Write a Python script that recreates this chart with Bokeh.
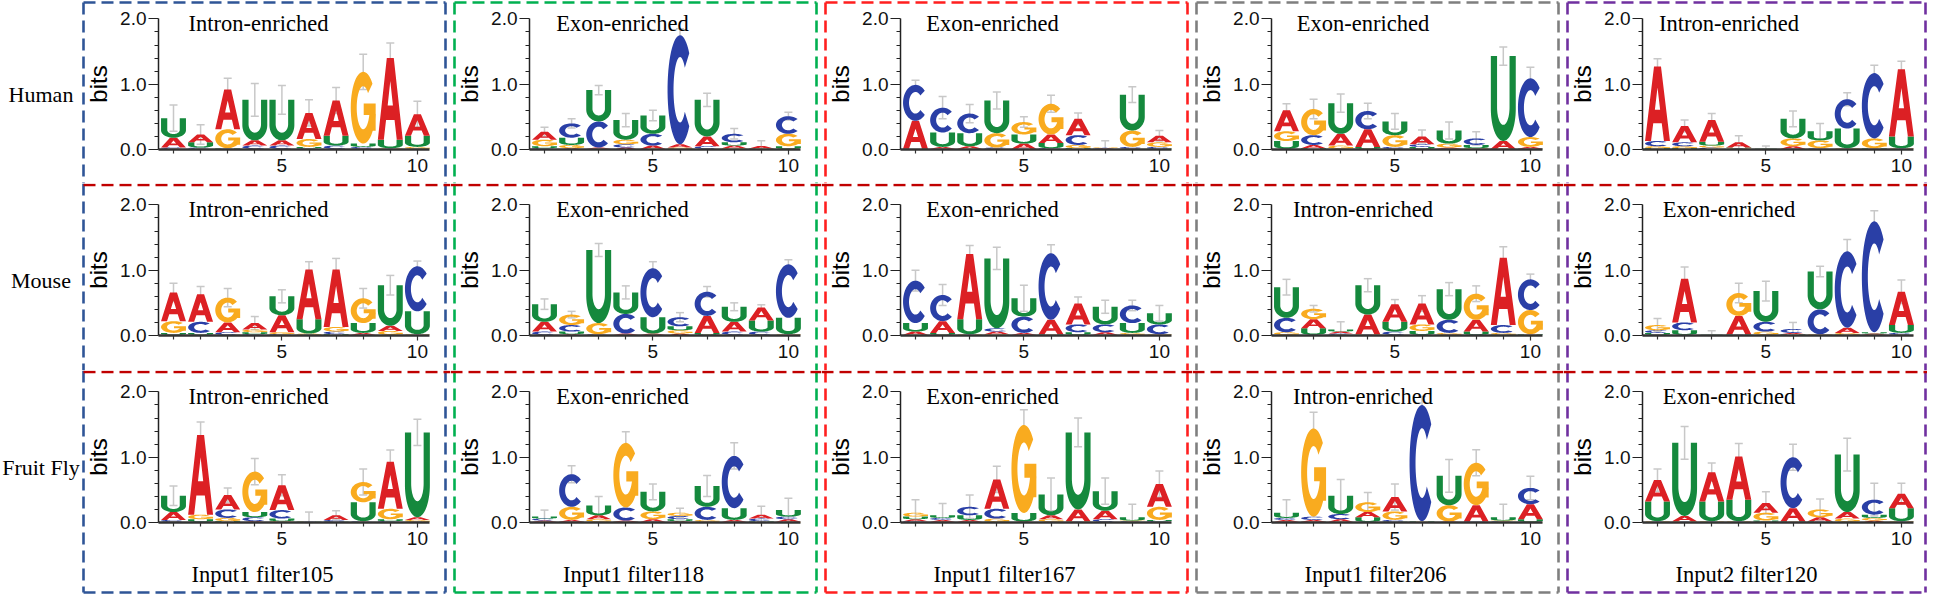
import numpy as np
from bokeh.plotting import figure
from bokeh.layouts import gridplot
from bokeh.models import (Range1d, LinearAxis, FixedTicker, PrintfTickFormatter,
                          ColumnDataSource, Whisker, TeeHead)
from bokeh.core.properties import value
from bokeh.embed import file_html
from bokeh.resources import INLINE

# ---------------------------------------------------------------- data
POSITIONS = [1, 2, 3, 4, 5, 6, 7, 8, 9, 10]
LETTERS = ["A", "C", "G", "U"]
ROW_NAMES = ["Human", "Mouse", "Fruit Fly"]
COL_NAMES = ["Input1 filter105", "Input1 filter118", "Input1 filter167",
             "Input1 filter206", "Input2 filter120"]
TITLES = [
    ["Intron-enriched", "Exon-enriched", "Exon-enriched", "Exon-enriched", "Intron-enriched"],
    ["Intron-enriched", "Exon-enriched", "Exon-enriched", "Intron-enriched", "Exon-enriched"],
    ["Intron-enriched", "Exon-enriched", "Exon-enriched", "Intron-enriched", "Exon-enriched"],
]

# information content (bits) per letter and position
human_f105 = {"A": [.15, .12, .61, .08, .08, .40, .54, .01, 1.25, .33],
              "C": [.02, .02, .01, .05, .05, .02, .05, .03, .01, .01],
              "G": [.01, .01, .29, .01, .01, .12, .01, 1.10, .01, .03],
              "U": [.30, .08, .01, .62, .62, .02, .15, .05, .13, .17]}
human_f105_err = [.20, .15, .17, .25, .22, .20, .20, .27, .23, .20]

mouse_f105 = {"A": [.44, .42, .15, .10, .26, .76, .88, .03, .08, .01],
              "C": [.01, .17, .04, .02, .02, .01, .04, .01, .01, .69],
              "G": [.18, .01, .38, .04, .03, .02, .07, .38, .06, .01],
              "U": [.03, .03, .01, .03, .29, .22, .02, .15, .62, .35]}
mouse_f105_err = [.14, .12, .14, .10, .10, .12, .17, .15, .15, .08]

fly_f105 = {"A": [.12, 1.22, .22, .02, .38, .005, .07, .01, .72, .04],
            "C": [.03, .01, .13, .06, .13, .005, .03, .01, .02, .01],
            "G": [.01, .07, .05, .62, .02, .005, .005, .31, .16, .03],
            "U": [.25, .04, .02, .08, .04, .005, .005, .29, .03, 1.30]}
fly_f105_err = [.15, .20, .11, .20, .16, .14, .07, .20, .18, .20]

human_f118 = {"A": [.12, .02, .02, .03, .05, .05, .15, .04, .04, .01],
              "C": [.02, .22, .40, .05, .18, 1.67, .04, .13, .005, .27],
              "G": [.10, .05, .01, .07, .01, .02, .01, .02, .005, .19],
              "U": [.03, .11, .48, .30, .28, .01, .56, .05, .005, .04]}
human_f118_err = [.07, .07, .07, .10, .08, .10, .10, .08, .08, .06]

mouse_f118 = {"A": [.15, .02, .01, .02, .02, .03, .26, .15, .20, .01],
              "C": [.05, .10, .01, .30, .75, .14, .37, .05, .05, .82],
              "G": [.01, .16, .17, .01, .01, .05, .01, .01, .01, .01],
              "U": [.27, .04, 1.12, .33, .25, .06, .03, .23, .17, .25]}
mouse_f118_err = [.08, .05, .10, .10, .10, .07, .08, .06, .04, .07]

fly_f118 = {"A": [.02, .03, .06, .02, .04, .02, .01, .03, .06, .04],
            "C": [.03, .50, .01, .20, .01, .05, .20, .80, .04, .04],
            "G": [.01, .20, .04, .99, .12, .05, .03, .01, .01, .01],
            "U": [.03, .01, .15, .01, .30, .03, .32, .18, .01, .10]}
fly_f118_err = [.10, .13, .14, .17, .12, .07, .16, .20, .13, .18]

human_f167 = {"A": [.43, .03, .04, .01, .08, .13, .25, .01, .01, .10],
              "C": [.55, .38, .30, .02, .01, .02, .15, .01, .03, .03],
              "G": [.005, .01, .01, .22, .19, .47, .05, .01, .25, .07],
              "U": [.005, .22, .20, .50, .14, .08, .02, .005, .55, .01]}
human_f167_err = [.07, .17, .14, .13, .08, .13, .09, .10, .12, .08]

mouse_f167 = {"A": [.05, .18, 1.00, .04, .03, .22, .32, .04, .01, .01],
              "C": [.65, .40, .01, .05, .25, 1.02, .12, .12, .27, .15],
              "G": [.01, .01, .01, .02, .01, .01, .01, .01, .03, .01],
              "U": [.13, .03, .23, 1.07, .28, .01, .04, .27, .15, .17]}
mouse_f167_err = [.16, .16, .13, .17, .20, .13, .10, .10, .08, .12]

fly_f167 = {"A": [.03, .03, .03, .45, .01, .06, .18, .13, .01, .35],
            "C": [.02, .03, .13, .15, .005, .01, .01, .04, .01, .02],
            "G": [.06, .01, .01, .05, 1.35, .04, .01, .01, .01, .20],
            "U": [.04, .04, .07, .01, .13, .32, 1.18, .30, .05, .02]}
fly_f167_err = [.20, .18, .18, .20, .23, .25, .22, .20, .20, .20]

human_f206 = {"A": [.32, .05, .18, .27, .01, .12, .02, .01, .12, .03],
              "C": [.01, .15, .01, .28, .03, .04, .01, .10, .005, .90],
              "G": [.15, .40, .05, .01, .18, .01, .06, .01, .005, .15],
              "U": [.12, .02, .47, .03, .21, .03, .20, .05, 1.30, .01]}
human_f206_err = [.10, .15, .14, .12, .12, .10, .13, .10, .14, .17]

mouse_f206 = {"A": [.01, .14, .03, .30, .27, .32, .01, .18, 1.03, .01],
              "C": [.22, .01, .02, .01, .05, .01, .20, .01, .12, .47],
              "G": [.04, .16, .01, .01, .01, .10, .03, .40, .03, .37],
              "U": [.47, .10, .03, .45, .15, .06, .47, .05, .01, .01]}
mouse_f206_err = [.12, .05, .12, .10, .07, .12, .10, .12, .17, .08]

fly_f206 = {"A": [.03, .03, .04, .08, .22, .005, .01, .25, .01, .23],
            "C": [.03, .05, .08, .01, .03, 1.78, .005, .01, .01, .25],
            "G": [.01, 1.35, .01, .15, .13, .005, .25, .65, .01, .01],
            "U": [.08, .01, .28, .07, .01, .01, .45, .005, .05, .04]}
fly_f206_err = [.20, .25, .25, .15, .20, .13, .25, .20, .20, .18]

human_in2_f120 = {"A": [1.14, .25, .33, .08, .003, .04, .01, .01, .01, 1.03],
                  "C": [.08, .06, .03, .01, .003, .01, .01, .45, 1.00, .01],
                  "G": [.03, .03, .03, .01, .003, .12, .12, .01, .15, .01],
                  "U": [.02, .02, .06, .01, .003, .30, .14, .30, .01, .18]}
human_in2_f120_err = [.12, .09, .10, .10, .04, .12, .12, .10, .12, .12]

mouse_in2_f120 = {"A": [.01, .67, .003, .28, .01, .02, .01, .08, .02, .51],
                  "C": [.04, .12, .003, .01, .15, .06, .38, 1.17, 1.70, .03],
                  "G": [.08, .01, .003, .35, .05, .01, .01, .03, .01, .01],
                  "U": [.03, .07, .003, .01, .47, .01, .58, .01, .02, .12]}
mouse_in2_f120_err = [.10, .18, .06, .15, .15, .10, .08, .18, .16, .18]

fly_in2_f120 = {"A": [.33, .08, .45, .66, .15, .20, .06, .10, .03, .22],
                "C": [.01, .01, .01, .01, .01, .78, .01, .01, .23, .01],
                "G": [.01, .01, .01, .01, .12, .01, .12, .05, .04, .01],
                "U": [.30, 1.12, .30, .33, .02, .01, .01, .88, .05, .20]}
fly_in2_f120_err = [.17, .25, .14, .20, .17, .20, .16, .25, .25, .16]

PANELS = [[human_f105, human_f118, human_f167, human_f206, human_in2_f120],
          [mouse_f105, mouse_f118, mouse_f167, mouse_f206, mouse_in2_f120],
          [fly_f105, fly_f118, fly_f167, fly_f206, fly_in2_f120]]
ERRORS = [[human_f105_err, human_f118_err, human_f167_err, human_f206_err, human_in2_f120_err],
          [mouse_f105_err, mouse_f118_err, mouse_f167_err, mouse_f206_err, mouse_in2_f120_err],
          [fly_f105_err, fly_f118_err, fly_f167_err, fly_f206_err, fly_in2_f120_err]]

# ---------------------------------------------------------------- styles / layout
LETTER_COLORS = {"A": "#dc2024", "C": "#2a3fa6", "G": "#f9ab1f", "U": "#15893d"}
COL_COLORS = ["#2f5597", "#00b050", "#ff1f1f", "#7f7f7f", "#7030a0"]
SEP_COLOR = "#c00000"
EB_COLOR = "#c8c8c8"
SERIF = "Liberation Serif"
SANS = "Liberation Sans"

COL_W = [450, 371, 371, 371, 364]
ROW_H = [183, 187, 226]
ZERO_PX = [149, 152, 152]
LABEL_W = 79
UNIT = 27.1
BIT = 65.3
AXIS_PX = 79
POS1_PX = 94
BORDER_L, BORDER_R = 4, 366
TITLE_OFF = [100, 93, 92, 91.5, 86.5]
ROW_LABEL_PX = 40.5
LETTER_W = 0.92


# ---------------------------------------------------------------- letter outlines (unit box)
def arc(cx, cy, rx, ry, a0, a1, n=48):
    t = np.radians(np.linspace(a0, a1, n))
    return list(cx + rx * np.cos(t)), list(cy + ry * np.sin(t))


def shape_A():
    ox = [0, 0.36, 0.64, 1, 0.76, 0.67, 0.33, 0.24]
    oy = [0, 1, 1, 0, 0, 0.24, 0.24, 0]
    hx = [0.395, 0.605, 0.5]
    hy = [0.42, 0.42, 0.72]
    return [[(ox, oy), (hx, hy)]]


def shape_U():
    ax, ay = arc(0.5, 0.38, 0.5, 0.38, 180, 360)
    bx, by = arc(0.5, 0.40, 0.25, 0.21, 360, 180)
    xs = [0] + ax + [1, 0.75] + bx + [0.25]
    ys = [1] + ay + [1, 1] + by + [1]
    return [[(xs, ys)]]


def shape_C():
    ox, oy = arc(0.5, 0.5, 0.5, 0.5, 42, 318)
    ix, iy = arc(0.5, 0.5, 0.26, 0.30, 318, 42)
    return [[(ox + ix, oy + iy)]]


def shape_G():
    ox, oy = arc(0.5, 0.5, 0.5, 0.5, 42, 350)
    ix, iy = arc(0.5, 0.5, 0.26, 0.30, 350, 42)
    ring = [(ox + ix, oy + iy)]
    bar = [([0.52, 1.0, 1.0, 0.78, 0.78, 0.52], [0.56, 0.56, 0.18, 0.18, 0.40, 0.40])]
    return [ring, bar]


SHAPES = {"A": shape_A(), "C": shape_C(), "G": shape_G(), "U": shape_U()}


# ---------------------------------------------------------------- one logo cell
def make_cell(r, c):
    W, H, z = COL_W[c], ROW_H[r], ZERO_PX[r]
    off = LABEL_W if c == 0 else 0
    x0 = 1 - (off + POS1_PX) / UNIT

    def X(px):
        return x0 + px / UNIT

    def Y(py):
        return (z - py) / BIT

    p = figure(width=W, height=H, x_range=Range1d(x0, X(W)), y_range=Range1d(Y(H), Y(0)),
               x_axis_type=None, y_axis_type=None, toolbar_location=None, tools="",
               output_backend="svg", min_border=0, outline_line_color=None,
               background_fill_color="white", border_fill_color="white")

    # dashed frames
    seg = {"x0": [], "y0": [], "x1": [], "y1": [], "color": []}

    def add(xa, ya, xb, yb, col):
        seg["x0"].append(X(xa)); seg["y0"].append(Y(ya))
        seg["x1"].append(X(xb)); seg["y1"].append(Y(yb))
        seg["color"].append(col)

    col = COL_COLORS[c]
    bl, br = off + BORDER_L, min(off + BORDER_R, W - 2)
    top = 2 if r == 0 else 0
    bottom = 222 if r == 2 else H
    add(bl, top, bl, bottom, col)
    add(br, top, br, bottom, col)
    if r == 0:
        add(bl, 2, br, 2, col)
    else:
        add(bl if c == 0 else 0, 1.5, W, 1.5, SEP_COLOR)
    if r == 2:
        add(bl, 222, br, 222, col)
    p.segment(x0="x0", y0="y0", x1="x1", y1="y1", source=ColumnDataSource(seg),
              line_color="color", line_width=2.6, line_dash="12 6")

    # stacked letters
    panel = PANELS[r][c]
    xs, ys, cols = [], [], []
    for i, pos in enumerate(POSITIONS):
        stack = sorted((panel[L][i], L) for L in LETTERS)
        base = 0.0
        for h, L in stack:
            for piece in SHAPES[L]:
                xs.append([[[float(pos - LETTER_W / 2 + LETTER_W * u) for u in ux] for ux, uy in piece]])
                ys.append([[[float(base + h * v) for v in uy] for ux, uy in piece]])
                cols.append(LETTER_COLORS[L])
            base += h
    p.multi_polygons(xs=xs, ys=ys, fill_color=cols, line_color=None)

    # error bars
    tot = [sum(panel[L][i] for L in LETTERS) for i in range(len(POSITIONS))]
    err = ERRORS[r][c]
    src = ColumnDataSource({"x": POSITIONS,
                            "up": [t + e for t, e in zip(tot, err)],
                            "lo": [max(t - e, 0.0) for t, e in zip(tot, err)]})
    p.add_layout(Whisker(source=src, base="x", upper="up", lower="lo",
                         line_color=EB_COLOR, line_width=1.5,
                         upper_head=TeeHead(size=8, line_color=EB_COLOR, line_width=1.5),
                         lower_head=TeeHead(size=8, line_color=EB_COLOR, line_width=1.5)))

    # axes
    ax_x = X(off + AXIS_PX)
    yax = LinearAxis(fixed_location=ax_x, bounds=(0, 2),
                     ticker=FixedTicker(ticks=[0, 1, 2],
                                        minor_ticks=[0.2, 0.4, 0.6, 0.8, 1.2, 1.4, 1.6, 1.8]),
                     formatter=PrintfTickFormatter(format="%.1f"),
                     axis_label="bits", axis_label_standoff=5,
                     axis_label_text_font=SANS, axis_label_text_font_size="24px",
                     axis_label_text_font_style="normal", axis_label_text_color="black",
                     major_label_text_font=SANS, major_label_text_font_size="19px",
                     major_label_text_color="#111111", major_label_standoff=2,
                     major_tick_out=10, major_tick_in=0, minor_tick_out=4, minor_tick_in=0,
                     axis_line_width=1.5, axis_line_color="#222222",
                     major_tick_line_color="#222222", minor_tick_line_color="#222222",
                     major_tick_line_width=1.2, minor_tick_line_width=1.2)
    p.add_layout(yax, "left")
    xax = LinearAxis(fixed_location=0, bounds=(ax_x, 10.45),
                     ticker=FixedTicker(ticks=[5, 10], minor_ticks=[1, 2, 3, 4, 6, 7, 8, 9]),
                     major_label_text_font=SANS, major_label_text_font_size="19px",
                     major_label_text_color="#111111", major_label_standoff=4,
                     major_tick_out=5, major_tick_in=0, minor_tick_out=4, minor_tick_in=0,
                     axis_line_width=2.5, axis_line_color="#333333",
                     major_tick_line_color="#333333", minor_tick_line_color="#333333",
                     major_tick_line_width=1.2, minor_tick_line_width=1.2)
    p.add_layout(xax, "below")

    # texts
    txt = dict(text_font=value(SERIF), text_font_size=value("22.5px"),
               text_align="center", text_baseline="middle", text_color="black")
    p.text(x=[ax_x + TITLE_OFF[c] / UNIT], y=[2 - 4.5 / BIT], text=[TITLES[r][c]], **txt)
    if c == 0:
        lab = dict(txt, text_font_size=value("22px"))
        p.text(x=[X(ROW_LABEL_PX)], y=[1 - 10 / BIT], text=[ROW_NAMES[r]], **lab)
    if r == 2:
        p.text(x=[ax_x + 104 / UNIT], y=[Y(204)], text=[COL_NAMES[c]], **txt)
    return p


grid = [[make_cell(r, c) for c in range(5)] for r in range(3)]
layout = gridplot(grid, toolbar_location=None)

open("out.html", "w").write(file_html(layout, INLINE))
